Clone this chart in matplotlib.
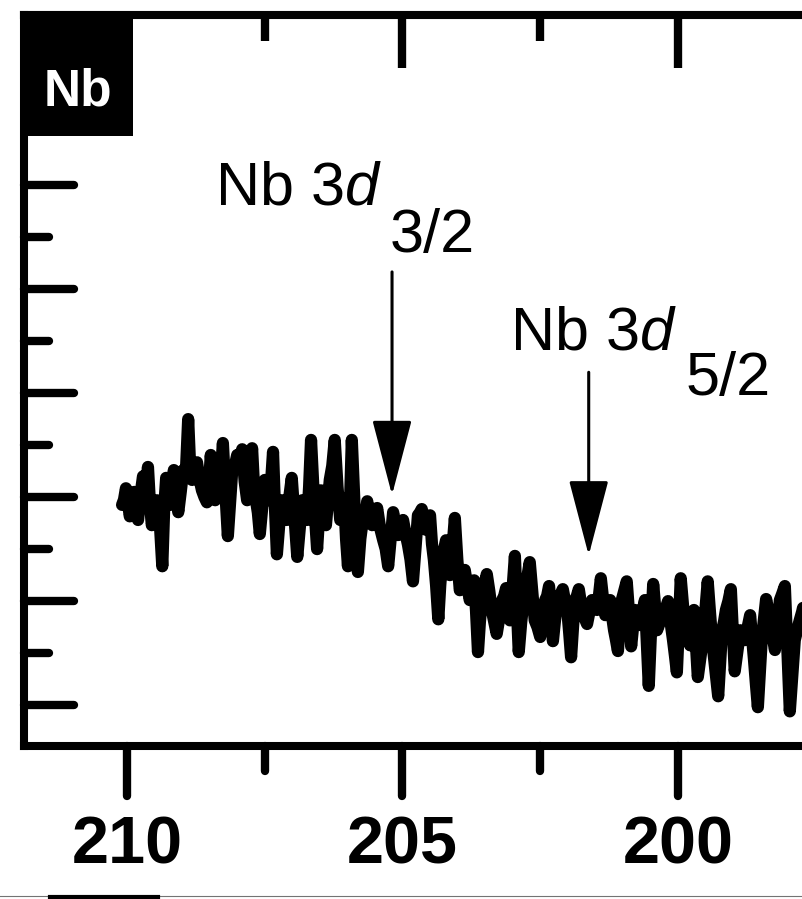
import matplotlib.pyplot as plt
from matplotlib.patches import Rectangle
from matplotlib.lines import Line2D
from matplotlib.markers import MarkerStyle, TICKDOWN, TICKRIGHT

plt.rcParams['font.family'] = 'Liberation Sans'
plt.rcParams['mathtext.fontset'] = 'custom'
plt.rcParams['mathtext.rm'] = 'Liberation Sans'
plt.rcParams['mathtext.it'] = 'Liberation Sans:italic'

# Nb 3d region, binding energy (eV) and intensity (a.u.)
binding_energy = [
    210.09, 210.02, 209.95, 209.87, 209.80, 209.71, 209.62, 209.55, 209.46, 209.36,
    209.29, 209.22, 209.15, 209.07, 208.98, 208.89, 208.82, 208.73, 208.64, 208.55,
    208.48, 208.40, 208.33, 208.26, 208.17, 208.09, 208.00, 207.91, 207.82, 207.73,
    207.66, 207.59, 207.50, 207.42, 207.35, 207.28, 207.19, 207.10, 207.01, 206.91,
    206.82, 206.73, 206.66, 206.55, 206.48, 206.39, 206.32, 206.23, 206.13, 206.06,
    205.99, 205.92, 205.81, 205.72, 205.64, 205.55, 205.46, 205.35, 205.26, 205.17,
    205.08, 204.99, 204.90, 204.81, 204.72, 204.65, 204.57, 204.50, 204.43, 204.35,
    204.28, 204.21, 204.14, 204.05, 203.96, 203.87, 203.78, 203.70, 203.63, 203.56,
    203.47, 203.38, 203.29, 203.19, 203.12, 203.05, 202.96, 202.89, 202.80, 202.69,
    202.60, 202.50, 202.41, 202.34, 202.27, 202.20, 202.09, 202.01, 201.94, 201.87,
    201.80, 201.72, 201.65, 201.56, 201.47, 201.40, 201.32, 201.23, 201.16, 201.09,
    201.02, 200.93, 200.85, 200.78, 200.69, 200.60, 200.53, 200.45, 200.38, 200.27,
    200.18, 200.09, 200.02, 199.95, 199.87, 199.78, 199.71, 199.64, 199.55, 199.46,
    199.38, 199.27, 199.20, 199.13, 199.04, 198.97, 198.87, 198.78, 198.69, 198.62,
    198.55, 198.48, 198.40, 198.33, 198.24, 198.15, 198.06, 197.97, 197.88, 197.79,
    197.70,
]
intensity = [
    3.85, 4.17, 3.63, 4.10, 3.56, 4.40, 4.58, 3.46, 3.94, 2.67,
    4.37, 3.85, 4.52, 3.71, 4.52, 5.50, 4.33, 4.67, 4.13, 3.90,
    4.81, 3.94, 4.62, 5.04, 3.25, 4.52, 4.81, 4.92, 3.94, 4.94,
    3.94, 3.29, 4.33, 3.94, 4.87, 2.90, 3.94, 3.56, 4.37, 2.85,
    3.94, 3.56, 5.10, 3.00, 4.13, 3.46, 4.33, 5.10, 3.56, 3.98,
    2.67, 5.10, 2.56, 3.56, 3.92, 3.46, 3.79, 3.17, 2.67, 3.71,
    3.27, 3.56, 3.08, 2.38, 3.65, 3.77, 3.37, 3.65, 2.79, 1.65,
    2.79, 3.17, 2.50, 3.60, 2.21, 2.60, 2.02, 2.40, 1.02, 2.02,
    2.52, 1.83, 1.37, 2.02, 2.25, 1.63, 2.87, 1.02, 2.02, 2.75,
    1.63, 1.31, 2.02, 2.29, 1.23, 1.92, 2.23, 1.83, 0.92, 2.02,
    2.23, 1.73, 1.56, 2.02, 1.83, 2.44, 1.73, 2.02, 1.44, 1.04,
    2.02, 2.38, 1.13, 1.83, 1.54, 2.02, 0.37, 2.33, 1.44, 1.73,
    2.00, 1.25, 0.63, 2.44, 1.44, 1.15, 1.83, 0.54, 1.25, 2.38,
    1.25, 0.17, 1.44, 1.83, 2.23, 0.65, 1.44, 1.25, 1.73, 0.87,
    -0.04, 1.25, 2.04, 1.63, 1.06, 2.02, 2.29, -0.12, 1.25, 1.63,
    2.02,
]
# readings taken halfway between the channels above
intensity_between = [
    3.95, 3.90, 3.85, 3.80, 4.05, 4.00, 3.90, 3.70, 3.60, 3.80,
    4.10, 4.15, 4.05, 4.10, 4.40, 4.60, 4.45, 4.35, 4.00, 4.20,
    4.30, 4.20, 4.50, 4.10, 3.90, 4.60, 4.70, 4.30, 4.30, 4.20,
    3.70, 3.80, 4.00, 4.30, 3.80, 3.50, 3.70, 4.00, 3.60, 3.40,
    3.70, 4.20, 3.90, 3.60, 3.70, 3.90, 4.60, 4.20, 3.70, 3.20,
    3.80, 3.70, 3.20, 3.60, 3.60, 3.50, 3.40, 3.00, 3.20, 3.40,
    3.35, 3.30, 2.80, 3.00, 3.70, 3.50, 3.50, 3.10, 2.30, 2.30,
    3.00, 2.80, 3.00, 2.80, 2.40, 2.30, 2.20, 1.80, 1.60, 2.30,
    2.20, 1.60, 1.70, 2.10, 1.90, 2.20, 1.90, 1.60, 2.40, 2.20,
    1.50, 1.70, 2.10, 1.80, 1.60, 2.10, 2.00, 1.40, 1.50, 2.10,
    1.95, 1.65, 1.80, 1.90, 2.10, 2.05, 1.90, 1.70, 1.25, 1.60,
    2.20, 1.80, 1.50, 1.70, 1.80, 1.20, 1.40, 1.90, 1.60, 1.85,
    1.60, 0.95, 1.50, 1.95, 1.30, 1.50, 1.20, 0.90, 1.80, 1.80,
    0.70, 0.80, 1.60, 2.00, 1.45, 1.05, 1.35, 1.50, 1.30, 0.40,
    0.60, 1.65, 1.85, 1.35, 1.55, 2.15, 1.10, 0.55, 1.45, 1.80,
]

# peak positions marked with arrows (tip, tail)
peak_labels = ['3/2', '5/2']
peak_energy = [205.19, 201.62]
arrow_tip = [4.04, 2.88]
arrow_tail = [8.33, 6.40]

# merge both sets of readings into one trace
energy_all = []
counts_all = []
for i in range(len(intensity)):
    energy_all.append(binding_energy[i])
    counts_all.append(intensity[i])
    if i < len(intensity_between):
        energy_all.append((binding_energy[i] + binding_energy[i + 1]) / 2)
        counts_all.append(intensity_between[i])

fig = plt.figure(figsize=(8.02, 8.99), dpi=100)
ax = fig.add_axes([24 / 802, 1 - 745.7 / 899, (900 - 24) / 802, (745.7 - 15) / 899])

ax.plot(energy_all, counts_all, color='black', lw=8.8,
        solid_joinstyle='round', solid_capstyle='round')

for side in ['left', 'bottom', 'top', 'right']:
    ax.spines[side].set_linewidth(5.8)

major_x = [210, 205, 200]
minor_x = [207.5, 202.5, 197.5]
ax.set_xticks(major_x)
ax.set_xticks(minor_x, minor=True)
ax.set_xticklabels([str(v) for v in major_x], fontsize=48, fontweight='bold')
ax.set_yticks([0, 2, 4, 6, 8, 10])
ax.set_yticks([1, 3, 5, 7, 9], minor=True)
ax.set_yticklabels([])

ax.tick_params(axis='x', which='both', direction='out', width=6, top=False, pad=14)
ax.tick_params(axis='x', which='major', length=36)
ax.tick_params(axis='x', which='minor', length=18)
ax.tick_params(axis='y', which='both', direction='in', width=6, right=False)
ax.tick_params(axis='y', which='major', length=36)
ax.tick_params(axis='y', which='minor', length=18)

# top axis ticks point inward
top = ax.secondary_xaxis('top')
top.set_xticks(major_x)
top.set_xticks(minor_x, minor=True)
top.set_xticklabels([])
top.tick_params(which='both', direction='in', width=6)
top.tick_params(which='major', length=38)
top.tick_params(which='minor', length=19)
top.spines['top'].set_linewidth(5.8)

ax.set_xlim(211.87, 195.97)
ax.set_ylim(-0.78, 13.27)

# rounded tick ends
for axis, mk in [(ax.xaxis, TICKDOWN), (ax.yaxis, TICKRIGHT), (top.xaxis, TICKDOWN)]:
    for t in axis.get_major_ticks() + axis.get_minor_ticks():
        t.tick1line.set_marker(MarkerStyle(mk, capstyle='round'))

# peak annotations
ax.text(208.40, 9.62, r'Nb 3$\mathit{d}$', fontsize=44, ha='left', va='baseline')
ax.text(205.23, 8.71, peak_labels[0], fontsize=44, ha='left', va='baseline')
ax.text(203.05, 6.83, r'Nb 3$\mathit{d}$', fontsize=44, ha='left', va='baseline')
ax.text(199.87, 5.96, peak_labels[1], fontsize=44, ha='left', va='baseline')

for e, tip, tail in zip(peak_energy, arrow_tip, arrow_tail):
    ax.annotate('', xy=(e, tip), xytext=(e, tail),
                arrowprops=dict(arrowstyle='-|>,head_length=2.4,head_width=0.63',
                                mutation_scale=20, lw=2.2, color='black',
                                shrinkA=0, shrinkB=0))

# element tag in the corner
fig.add_artist(Rectangle((22 / 802, 1 - 136 / 899), 111 / 802, 121 / 899,
                         transform=fig.transFigure, color='black', lw=0))
fig.text(77.5 / 802, 1 - 106 / 899, 'Nb', color='white', fontsize=37,
         fontweight='bold', ha='center', va='baseline')

# edge of the panel below
fig.add_artist(Line2D([0, 1], [1 - 896 / 899] * 2, transform=fig.transFigure,
                      color='0.45', lw=0.8))
fig.add_artist(Line2D([50 / 802, 158 / 802], [1 - 897 / 899] * 2,
                      transform=fig.transFigure, color='black', lw=3))

fig.savefig('out.png', dpi=100)
